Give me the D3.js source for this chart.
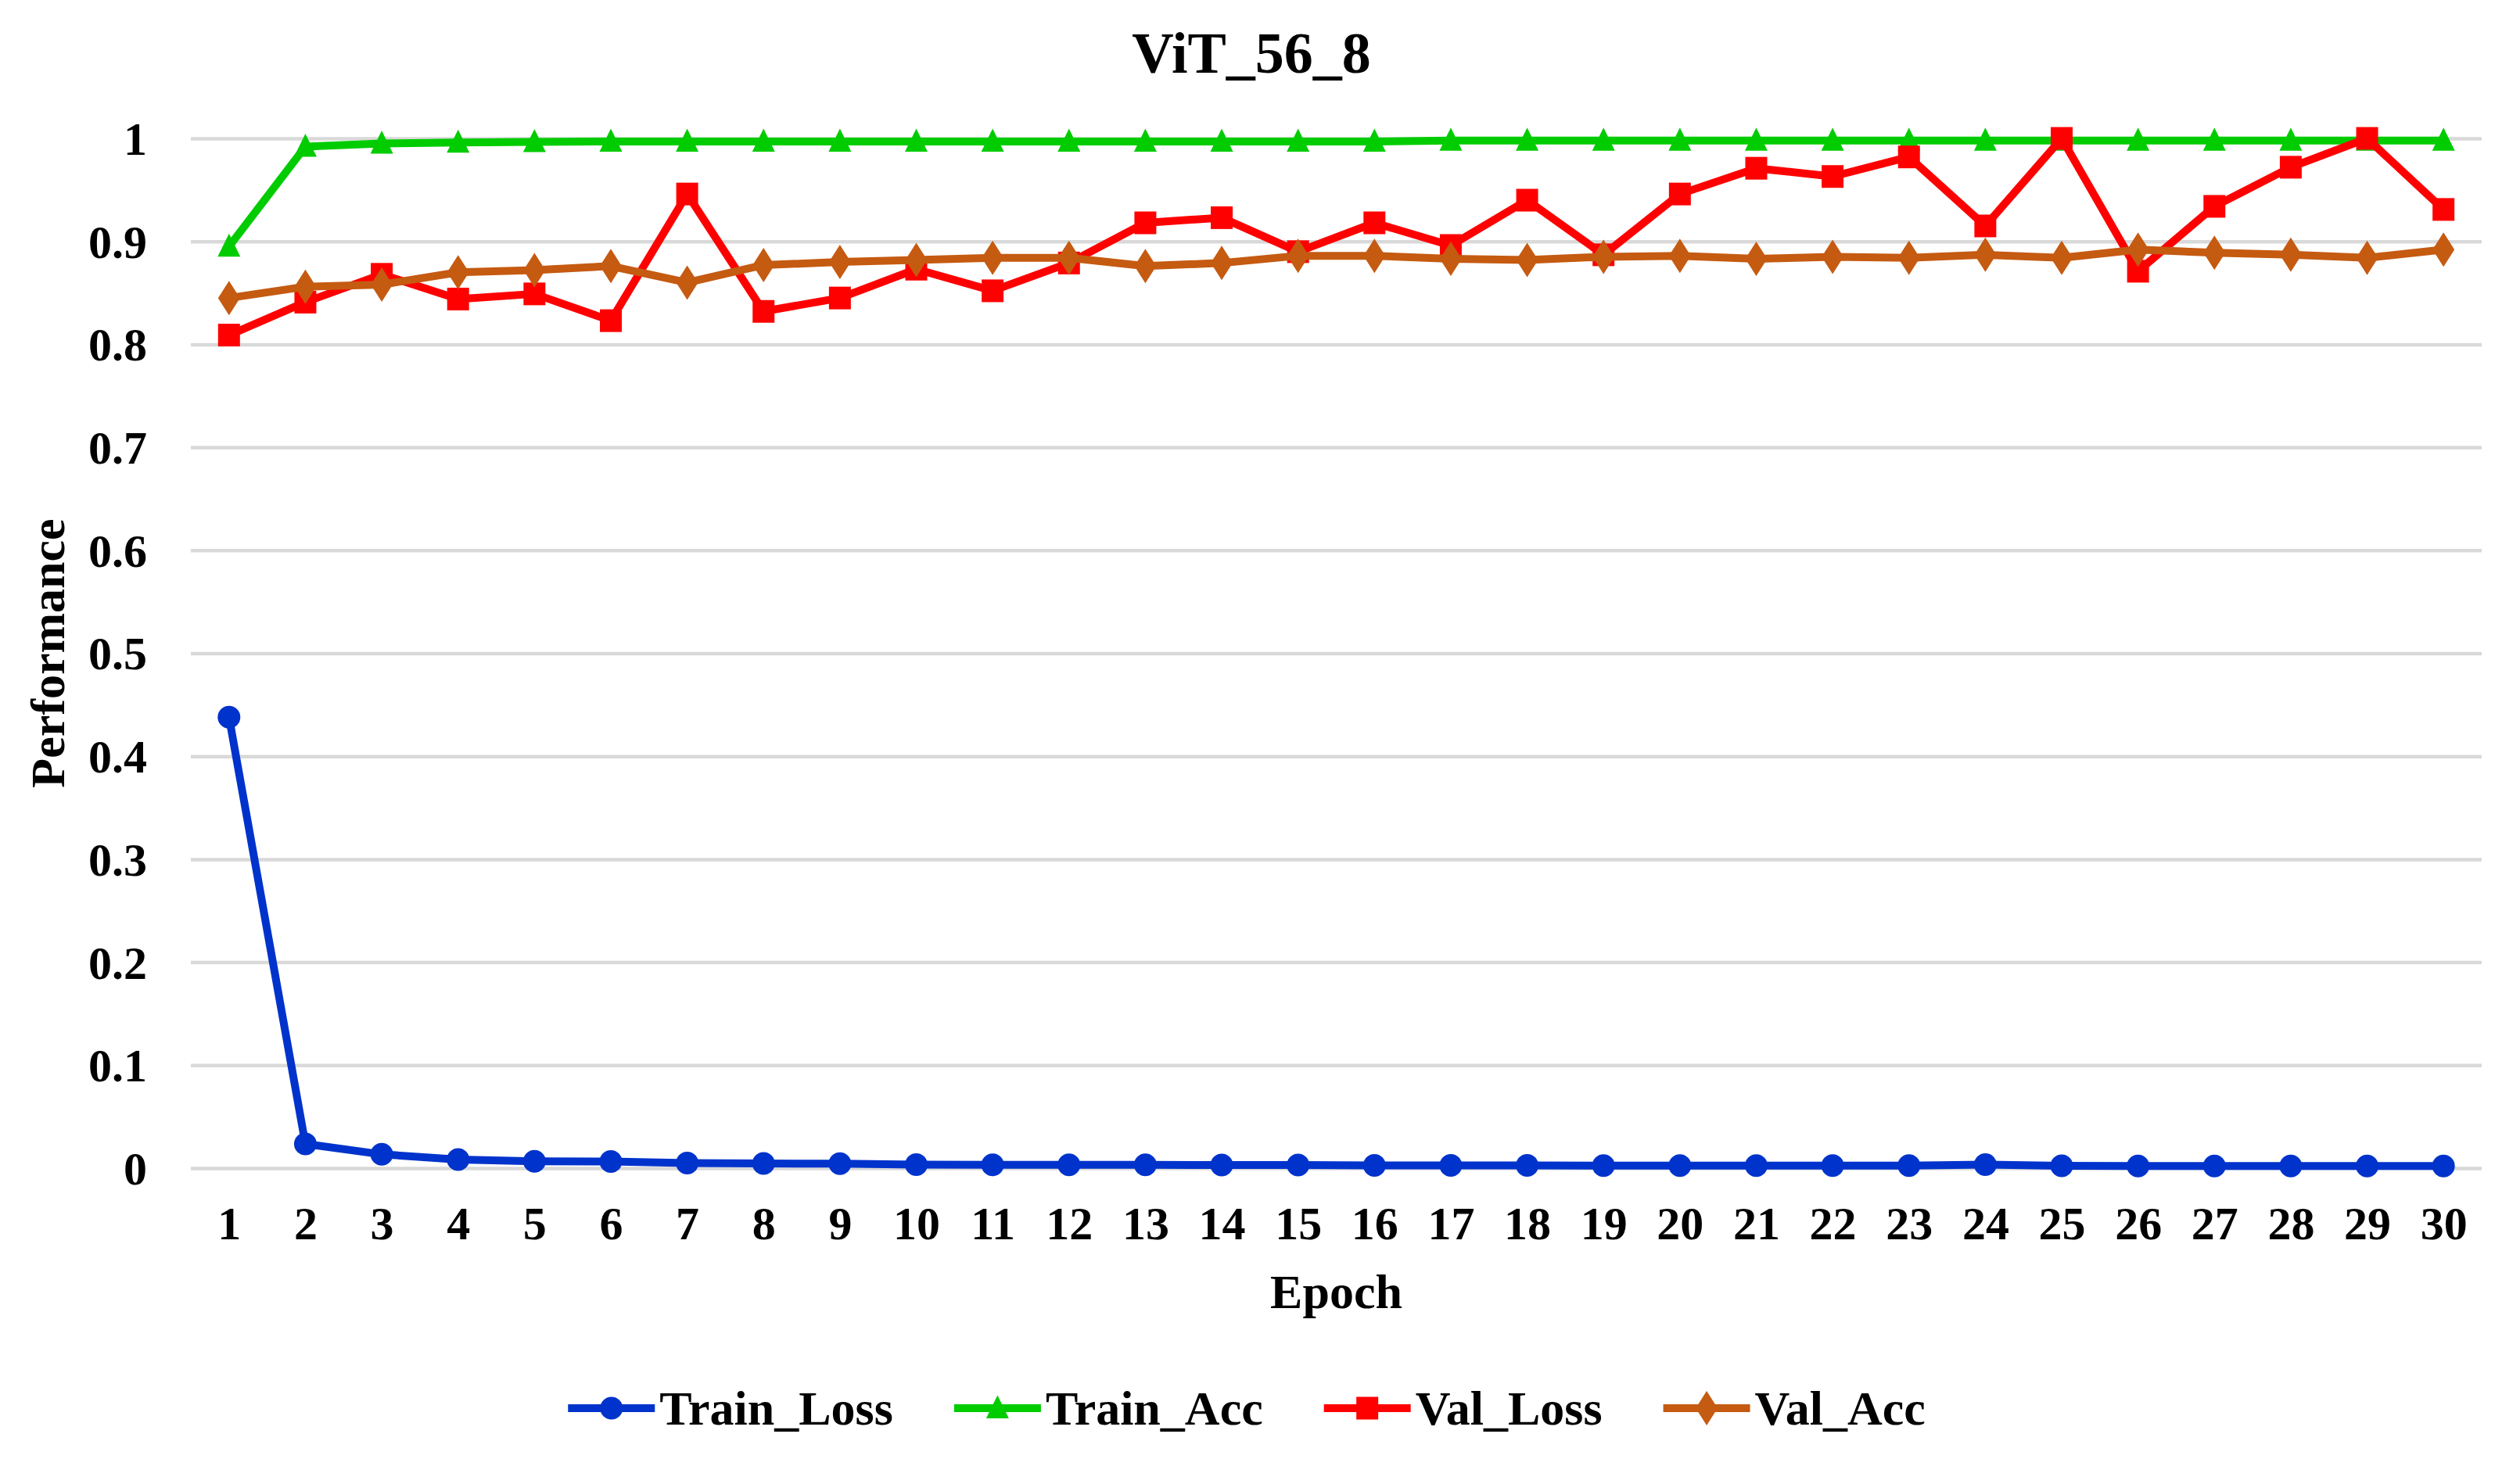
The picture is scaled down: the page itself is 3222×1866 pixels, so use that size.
<!DOCTYPE html>
<html><head><meta charset="utf-8">
<script src="https://cdn.jsdelivr.net/npm/d3@7/dist/d3.min.js"></script>
<style>
body{margin:0;background:#fff}
svg{display:block;background:#fff}
text{font-family:"Liberation Serif","Times New Roman",serif;font-weight:bold;fill:#000}
</style>
</head><body>
<svg id="chart" width="3222" height="1866"></svg>
<script>
// ---------------- data ----------------
const chartTitle = "ViT_56_8";
const xTitle = "Epoch";
const yTitle = "Performance";
const epochs = [1,2,3,4,5,6,7,8,9,10,11,12,13,14,15,16,17,18,19,20,21,22,23,24,25,26,27,28,29,30];
const yTicks = [0,0.1,0.2,0.3,0.4,0.5,0.6,0.7,0.8,0.9,1];
const yTickLabels = ["0","0.1","0.2","0.3","0.4","0.5","0.6","0.7","0.8","0.9","1"];
const seriesNames = ["Train_Loss","Train_Acc","Val_Loss","Val_Acc"];
const trainLoss = [0.438,0.0235,0.0134,0.0083,0.0066,0.0064,0.005,0.0045,0.0044,0.0034,0.0033,0.0032,0.0032,0.003,0.003,0.0027,0.0026,0.0026,0.0025,0.0025,0.0025,0.0025,0.0025,0.0035,0.0022,0.0021,0.002,0.002,0.002,0.002];
const trainAcc = [0.895,0.992,0.995,0.996,0.9965,0.997,0.997,0.997,0.997,0.997,0.997,0.997,0.997,0.997,0.997,0.997,0.998,0.998,0.998,0.998,0.998,0.998,0.998,0.998,0.998,0.998,0.998,0.998,0.998,0.998];
const valLoss = [0.809,0.841,0.868,0.844,0.849,0.823,0.946,0.832,0.845,0.873,0.852,0.879,0.918,0.923,0.890,0.918,0.896,0.940,0.887,0.946,0.971,0.963,0.982,0.915,1.0,0.871,0.934,0.972,1.0,0.931];
const valAcc = [0.845,0.856,0.858,0.870,0.872,0.876,0.860,0.877,0.880,0.882,0.884,0.884,0.876,0.879,0.886,0.886,0.883,0.882,0.885,0.886,0.883,0.885,0.884,0.887,0.884,0.892,0.889,0.887,0.884,0.892];
const seriesValues = [trainLoss, trainAcc, valLoss, valAcc];
const seriesColors = ["#0033CC","#00CC00","#FF0000","#C55A11"];
const seriesMarkers = ["circle","triangle","square","diamond"];

// ---------------- layout ----------------
const W = 3222, H = 1866;
const plot = {left: 244, right: 3173, top: 177, bottom: 1494};

const svg = d3.select("#chart");
svg.append("rect").attr("width", W).attr("height", H).attr("fill", "#fff");

const x = d3.scalePoint().domain(epochs).range([plot.left, plot.right]).padding(0.5);
const y = d3.scaleLinear().domain([0, 1]).range([plot.bottom, plot.top]);

// gridlines
const grid = svg.append("g").attr("transform", `translate(${plot.left},0)`)
  .call(d3.axisLeft(y).tickValues(yTicks).tickSize(-(plot.right - plot.left)).tickFormat(""));
grid.select(".domain").remove();
grid.selectAll(".tick line").attr("stroke", "#D9D9D9").attr("stroke-width", 4.5);

// y tick labels
const yAxis = svg.append("g").attr("transform", `translate(${plot.left - 56},0)`)
  .call(d3.axisLeft(y).tickValues(yTicks).tickSize(0).tickPadding(0)
    .tickFormat((d, i) => yTickLabels[i]));
yAxis.select(".domain").remove();
yAxis.selectAll("text").attr("font-size", 60).attr("font-family", null)
  .attr("dy", "0.34em").attr("x", 0);

// x tick labels
const xAxis = svg.append("g").attr("transform", `translate(0,${plot.bottom})`)
  .call(d3.axisBottom(x).tickSize(0).tickPadding(0));
xAxis.select(".domain").remove();
xAxis.selectAll("text").attr("font-size", 60).attr("font-family", null)
  .attr("dy", null).attr("y", 91);

// titles
svg.append("text").attr("x", 1600).attr("y", 93).attr("text-anchor", "middle")
  .attr("font-size", 74).text(chartTitle);
svg.append("text").attr("x", (plot.left + plot.right) / 2).attr("y", 1673)
  .attr("text-anchor", "middle").attr("font-size", 62).text(xTitle);
svg.append("text").attr("transform", `translate(82,${(plot.top + plot.bottom) / 2}) rotate(-90)`)
  .attr("text-anchor", "middle").attr("font-size", 62).text(yTitle);

// marker shapes
function markerPath(type) {
  switch (type) {
    case "circle": return d3.symbol().type(d3.symbolCircle).size(Math.PI * 14.5 * 14.5)();
    case "square": return "M-14,-14.5H14V14.5H-14Z";
    case "triangle": return "M0,-16.5L14.5,13L-14.5,13Z";
    case "diamond": return "M0,-22L14,0L0,22L-14,0Z";
  }
}

// series
const line = d3.line().x((d, i) => x(epochs[i])).y(d => y(d));
seriesNames.forEach((name, s) => {
  const g = svg.append("g");
  g.append("path").datum(seriesValues[s]).attr("d", line)
    .attr("fill", "none").attr("stroke", seriesColors[s]).attr("stroke-width", 10)
    .attr("stroke-linejoin", "round");
  g.selectAll("path.m").data(seriesValues[s]).join("path").attr("class", "m")
    .attr("d", markerPath(seriesMarkers[s]))
    .attr("transform", (d, i) => `translate(${x(epochs[i])},${y(d)})`)
    .attr("fill", seriesColors[s]);
});

// legend
const legY = 1801, lineLen = 111, txtGap = 6, itemGap = 78;
const leg = svg.append("g");
const items = seriesNames.map((name, s) => {
  const g = leg.append("g");
  g.append("line").attr("x1", 0).attr("x2", lineLen).attr("y1", 0).attr("y2", 0)
    .attr("stroke", seriesColors[s]).attr("stroke-width", 10);
  g.append("path").attr("d", markerPath(seriesMarkers[s])).attr("transform", `translate(${lineLen / 2},0)`)
    .attr("fill", seriesColors[s]);
  const t = g.append("text").attr("x", lineLen + txtGap).attr("y", 21).attr("font-size", 62).text(name);
  return {g, w: lineLen + txtGap + t.node().getComputedTextLength()};
});
const total = d3.sum(items, d => d.w) + itemGap * (items.length - 1);
let cx = 1594 - total / 2;
items.forEach(it => { it.g.attr("transform", `translate(${cx},${legY})`); cx += it.w + itemGap; });
</script>
</body></html>
